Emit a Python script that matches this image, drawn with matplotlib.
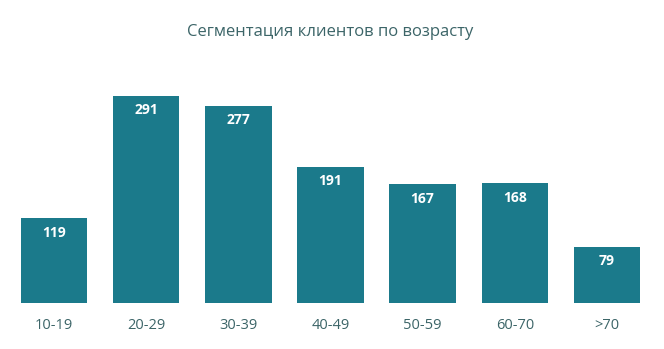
import matplotlib.pyplot as plt

# возрастные группы и число клиентов
age_groups = ["10-19", "20-29", "30-39", "40-49", "50-59", "60-70", ">70"]
clients = [119, 291, 277, 191, 167, 168, 79]

BAR_COLOR = "#1b7a8b"
TEXT_COLOR = "#3c6568"

plt.rcParams['font.family'] = ['Open Sans', 'DejaVu Sans']

fig = plt.figure(figsize=(6.64, 3.49), dpi=100)
ax = fig.add_axes([8 / 664, 46 / 349, 645 / 664, 243 / 349])

x = range(len(age_groups))
bars = ax.bar(x, clients, width=0.72, color=BAR_COLOR)

for rect, val in zip(bars, clients):
    ax.annotate(str(val), (rect.get_x() + rect.get_width() / 2, rect.get_height()),
                xytext=(0, -10.5), textcoords="offset points", ha="center", va="center",
                color="white", fontsize=10, fontweight="bold")

ax.set_xlim(-0.5, len(age_groups) - 0.5)
ax.set_ylim(0, 341)
ax.set_xticks(list(x))
ax.set_xticklabels(age_groups, fontsize=10.5, color=TEXT_COLOR)
ax.tick_params(axis="x", length=0, pad=11)
ax.set_yticks([])
for s in ax.spines.values():
    s.set_visible(False)

fig.text(330 / 664, 1 - 32 / 349, "Сегментация клиентов по возрасту", ha="center", va="center",
         fontsize=12, color=TEXT_COLOR)

fig.savefig("out.png", dpi=100)
